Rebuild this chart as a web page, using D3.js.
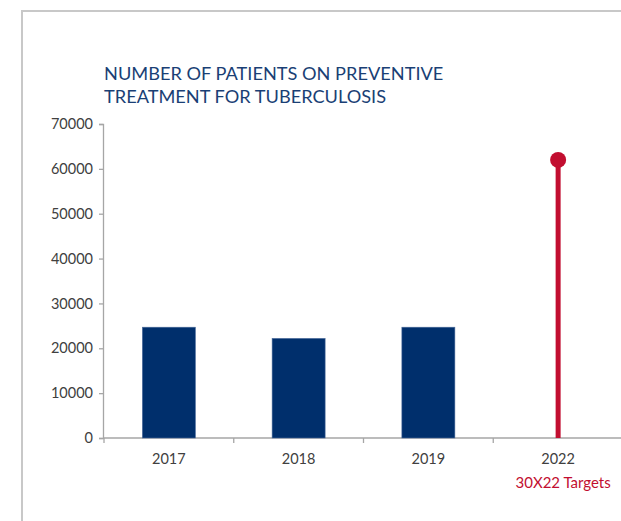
<!DOCTYPE html>
<html>
<head>
<meta charset="utf-8">
<script src="https://cdn.jsdelivr.net/npm/d3@7"></script>
<style>
  body { margin: 0; background: #fff; }
  svg text { font-family: Lato, "Open Sans", sans-serif; }
</style>
</head>
<body>
<div id="chart"></div>
<script>
const years = ['2017', '2018', '2019', '2022'];
const patients = [24700, 22200, 24700, null];
const targets = [null, null, null, 62000];
const yTicks = [0, 10000, 20000, 30000, 40000, 50000, 60000, 70000];
const titleLines = ['NUMBER OF PATIENTS ON PREVENTIVE', 'TREATMENT FOR TUBERCULOSIS'];
const targetLabel = '30X22 Targets';

const width = 621;
const height = 521;
const margin = { top: 124, right: -2, bottom: 83, left: 104 };

const navy = '#002f6c';
const red = '#c20e30';
const axisGray = '#a6a6a6';
const textGray = '#404040';

const svg = d3
  .select('#chart')
  .append('svg')
  .attr('width', width)
  .attr('height', height);

// panel frame (only top and left edges visible)
svg
  .append('path')
  .attr('d', `M22,${height} V11 H${width}`)
  .attr('fill', 'none')
  .attr('stroke', '#c8c8c8')
  .attr('stroke-width', 2);

const x = d3
  .scaleBand()
  .domain(years)
  .range([margin.left, width - margin.right])
  .paddingInner(0)
  .paddingOuter(0);

const y = d3
  .scaleLinear()
  .domain([0, 70000])
  .range([height - margin.bottom, margin.top]);

// title
svg
  .append('g')
  .selectAll('text')
  .data(titleLines)
  .enter()
  .append('text')
  .attr('x', 104)
  .attr('y', (d, i) => 80 + i * 23)
  .attr('fill', '#1a3f75')
  .attr('font-size', 18.2)
  .text(d => d);

// y axis
const yAxis = svg
  .append('g')
  .attr('transform', `translate(${margin.left - 1},0)`)
  .call(
    d3.axisLeft(y)
      .tickValues(yTicks)
      .tickSize(4)
      .tickPadding(6)
      .tickFormat(d3.format('d'))
  );
yAxis.select('.domain').attr('stroke', axisGray).attr('stroke-width', 1.3);
yAxis.selectAll('.tick line').attr('stroke', axisGray).attr('stroke-width', 1.3);
yAxis
  .selectAll('.tick text')
  .attr('fill', textGray)
  .attr('font-size', 14.5)
  .attr('font-family', 'Lato, sans-serif');

// x axis: ticks at category boundaries
const xBase = y(0);
const xAxis = svg.append('g');
xAxis
  .append('line')
  .attr('x1', margin.left - 1)
  .attr('x2', width)
  .attr('y1', xBase)
  .attr('y2', xBase)
  .attr('stroke', axisGray)
  .attr('stroke-width', 1.5);
xAxis
  .selectAll('line.tick')
  .data(years)
  .enter()
  .append('line')
  .attr('class', 'tick')
  .attr('x1', d => x(d))
  .attr('x2', d => x(d))
  .attr('y1', xBase)
  .attr('y2', xBase + 5)
  .attr('stroke', axisGray)
  .attr('stroke-width', 1.3);
xAxis
  .selectAll('text')
  .data(years)
  .enter()
  .append('text')
  .attr('x', d => x(d) + x.bandwidth() / 2)
  .attr('y', xBase + 26)
  .attr('text-anchor', 'middle')
  .attr('fill', textGray)
  .attr('font-size', 14.5)
  .text(d => d);

svg
  .append('text')
  .attr('x', x('2022') + x.bandwidth() / 2 + 5)
  .attr('y', xBase + 50)
  .attr('text-anchor', 'middle')
  .attr('fill', red)
  .attr('font-size', 15)
  .text(targetLabel);

// bars
const barWidth = 53;
svg
  .append('g')
  .selectAll('rect')
  .data(years.map((d, i) => ({ year: d, value: patients[i] })).filter(d => d.value != null))
  .enter()
  .append('rect')
  .attr('x', d => x(d.year) + (x.bandwidth() - barWidth) / 2)
  .attr('y', d => y(d.value))
  .attr('width', barWidth)
  .attr('height', d => xBase - y(d.value))
  .attr('fill', navy)
  .attr('stroke', '#4a6a9a')
  .attr('stroke-width', 0.6);

// target lollipop
const target = years.map((d, i) => ({ year: d, value: targets[i] })).filter(d => d.value != null);
const lolli = svg.append('g').selectAll('g').data(target).enter().append('g');
lolli
  .append('line')
  .attr('x1', d => x(d.year) + x.bandwidth() / 2)
  .attr('x2', d => x(d.year) + x.bandwidth() / 2)
  .attr('y1', xBase)
  .attr('y2', d => y(d.value))
  .attr('stroke', red)
  .attr('stroke-width', 5);
lolli
  .append('circle')
  .attr('cx', d => x(d.year) + x.bandwidth() / 2)
  .attr('cy', d => y(d.value))
  .attr('r', 8)
  .attr('fill', red);
</script>
</body>
</html>
